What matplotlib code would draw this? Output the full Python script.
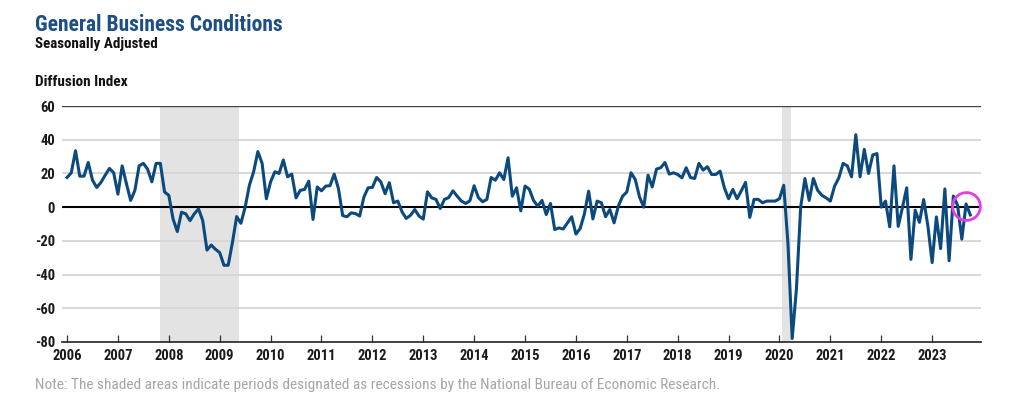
import matplotlib
matplotlib.use("Agg")
import matplotlib.pyplot as plt
import numpy as np

# Empire State Manufacturing Survey - General Business Conditions (monthly, Jan 2006 - Oct 2023)
index_values = [
    # 2006
    17.6, 20.4, 33.5, 18.4, 18.4, 26.5, 16.0, 11.7, 14.7, 19.0, 23.0, 20.4,
    # 2007
    7.7, 24.5, 14.0, 4.0, 10.0, 24.5, 26.0, 22.5, 15.0, 26.0, 26.0, 9.0,
    # 2008
    7.0, -7.0, -14.5, -3.0, -4.0, -8.0, -4.0, -1.0, -8.0, -25.5, -22.5, -25.0,
    # 2009
    -27.0, -34.5, -34.5, -21.0, -5.6, -9.6, 0.0, 13.0, 21.0, 33.0, 26.0, 5.0,
    # 2010
    15.0, 21.0, 20.0, 28.0, 18.0, 19.6, 5.5, 10.0, 10.5, 15.4, -7.3, 12.0,
    # 2011
    9.7, 12.5, 12.7, 19.6, 11.0, -5.0, -5.7, -3.4, -3.8, -5.3, 6.0, 11.5,
    # 2012
    11.7, 17.6, 15.0, 8.0, 14.5, 2.6, 3.6, -2.8, -6.7, -4.8, -1.4, -5.3,
    # 2013
    -7.1, 9.1, 5.5, 4.6, -0.8, 4.6, 5.7, 9.7, 6.5, 3.6, 2.2, 3.8,
    # 2014
    12.7, 5.7, 3.2, 4.6, 17.6, 16.0, 20.4, 16.4, 29.3, 6.5, 11.5, -2.2,
    # 2015
    12.5, 10.7, 4.0, 0.6, 4.0, -4.4, 2.2, -13.3, -12.3, -13.0, -9.3, -5.7,
    # 2016
    -16.0, -12.7, -4.0, 9.5, -7.0, 3.6, 2.6, -5.7, -1.4, -9.3, 0.6, 6.5,
    # 2017
    9.0, 20.4, 16.4, 6.0, 0.0, 19.0, 12.0, 22.6, 23.4, 26.5, 19.6, 20.4,
    # 2018
    19.4, 17.4, 23.4, 17.6, 17.0, 26.0, 22.0, 24.0, 19.4, 19.4, 21.4, 11.5,
    # 2019
    5.0, 10.5, 5.0, 9.7, 14.7, -6.1, 4.6, 4.6, 2.6, 3.6, 3.6, 3.6,
    # 2020
    5.0, 13.0, -21.5, -78.0, -48.5, 0.0, 17.0, 4.0, 17.0, 10.0, 7.0, 5.5,
    # 2021
    3.6, 12.5, 17.4, 26.0, 24.5, 18.0, 43.0, 18.0, 34.3, 20.0, 31.0, 31.8,
    # 2022
    0.0, 3.6, -11.7, 24.5, -11.4, -0.2, 11.5, -31.0, -1.8, -9.0, 4.5, -11.2,
    # 2023
    -32.9, -5.8, -24.6, 10.8, -31.8, 6.6, 1.1, -19.0, 1.9, -4.6,
]
start_year = 2006
years = list(range(2006, 2024))
y_ticks = [60, 40, 20, 0, -20, -40, -60, -80]
# NBER recession periods (decimal years)
recessions = [(2007.83, 2009.38), (2020.05, 2020.22)]

t = start_year + np.arange(len(index_values)) / 12.0

plt.rcParams['font.family'] = ['Roboto Condensed', 'DejaVu Sans']

fig = plt.figure(figsize=(10.24, 4.08), dpi=100)
ax = fig.add_axes([0.0605, 0.162, 0.8975, 0.578])

for r0, r1 in recessions:
    ax.axvspan(r0, r1, color='#e3e3e3', lw=0, zorder=0)

for yv in y_ticks:
    if yv in (60, 0, -80):
        continue
    ax.axhline(yv, color='#d6d6d6', lw=1.3, zorder=1)
ax.axhline(60, color='#444444', lw=1.0, zorder=1)
ax.axhline(0, color='black', lw=1.5, zorder=2)

ax.plot(t, index_values, color='#0c4a7e', lw=2.2, zorder=3)

# highlight on latest reading
ax.plot(t[-2], index_values[-2] - 1.5, marker='o', ms=20, mfc='none', mec='#e23fe5', mew=2.0, zorder=4)

ax.set_xlim(2005.9, 2023.96)
ax.set_ylim(-80, 60)
ax.set_xticks(years)
ax.set_xticklabels([str(y) for y in years], fontsize=10.5, fontweight='bold', color='#1a1a1a')
ax.set_yticks(y_ticks)
ax.set_yticklabels([str(v) for v in y_ticks], fontsize=10.5, fontweight='bold', color='#1a1a1a')
ax.tick_params(axis='x', direction='in', length=5, width=0.9, color='#333333', pad=5)
ax.tick_params(axis='y', length=0, pad=5)

for s in ['top', 'right', 'left']:
    ax.spines[s].set_visible(False)
ax.spines['bottom'].set_color('#222222')
ax.spines['bottom'].set_linewidth(1.2)

fig.text(0.034, 0.924, 'General Business Conditions', fontsize=15.5, fontweight='bold',
         color='#1b4f86', ha='left', va='baseline')
fig.text(0.034, 0.882, 'Seasonally Adjusted', fontsize=10.8, fontweight='bold',
         color='#111111', ha='left', va='baseline')
fig.text(0.034, 0.790, 'Diffusion Index', fontsize=11, fontweight='bold',
         color='#111111', ha='left', va='baseline')
fig.text(0.034, 0.047, 'Note: The shaded areas indicate periods designated as recessions by the '
         'National Bureau of Economic Research.', fontsize=11.1, color='#a6a6a6',
         ha='left', va='baseline')

fig.savefig('out.png', dpi=100)
